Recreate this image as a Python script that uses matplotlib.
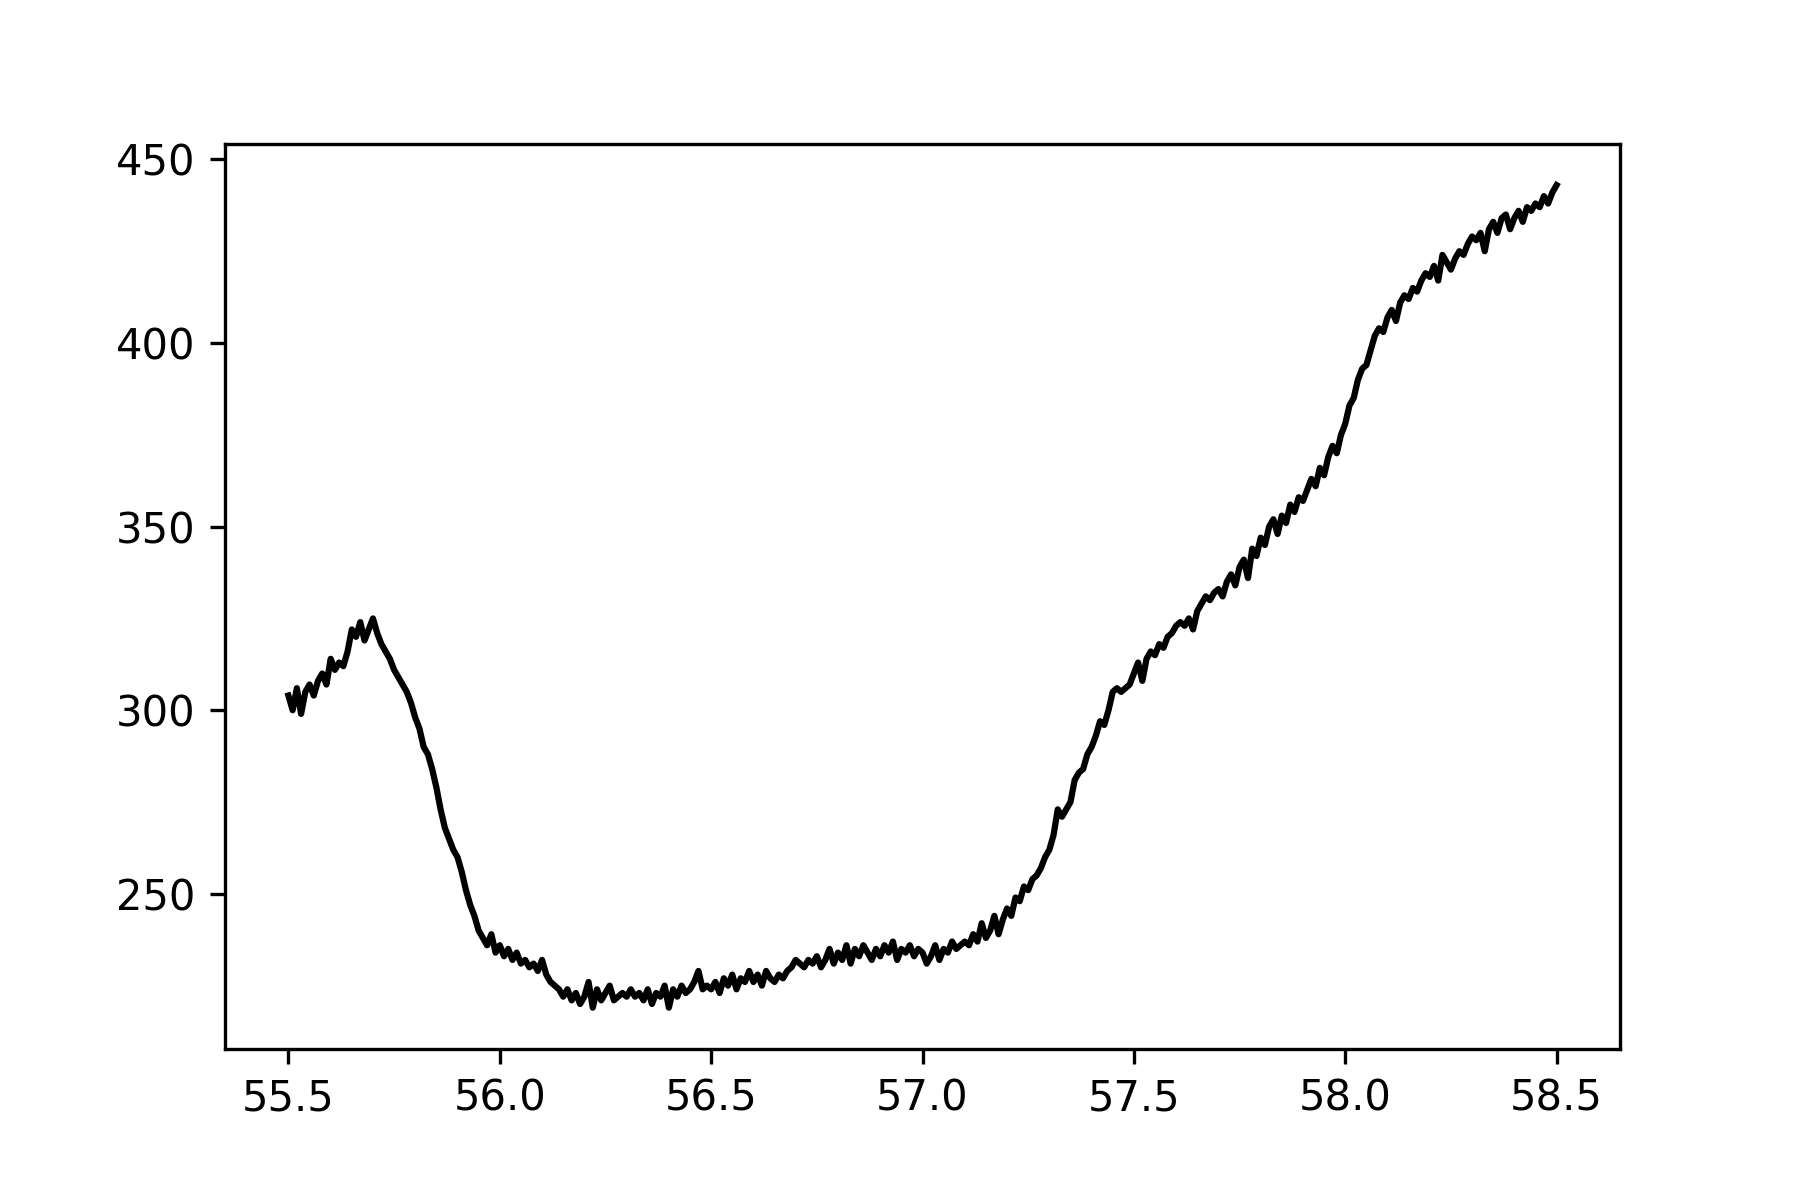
import matplotlib
matplotlib.use("Agg")
import matplotlib.pyplot as plt
import numpy as np

# x runs evenly from 55.5 to 58.5, one reading every 0.01
x_start = 55.5
x_stop = 58.5

signal = [
    304, 300, 306, 299, 305, 307, 304, 308, 310, 307,
    314, 311, 313, 312, 316, 322, 320, 324, 319, 322,
    325, 321, 318, 316, 314, 311, 309, 307, 305, 302,
    298, 295, 290, 288, 284, 279, 273, 268, 265, 262,
    260, 256, 251, 247, 244, 240, 238, 236, 239, 234,
    236, 233, 235, 232, 234, 231, 232, 230, 231, 229,
    232, 228, 226, 225, 224, 222, 224, 221, 223, 220,
    222, 226, 219, 224, 221, 223, 225, 221, 222, 223,
    222, 224, 222, 223, 221, 224, 220, 223, 222, 225,
    219, 224, 222, 225, 223, 224, 226, 229, 224, 225,
    224, 226, 223, 227, 225, 228, 224, 227, 226, 229,
    226, 228, 225, 229, 227, 226, 228, 227, 229, 230,
    232, 231, 230, 232, 231, 233, 230, 232, 235, 231,
    234, 232, 236, 231, 235, 233, 236, 234, 232, 235,
    233, 236, 234, 237, 232, 235, 234, 236, 233, 235,
    234, 231, 233, 236, 232, 235, 234, 237, 235, 236,
    237, 236, 239, 237, 242, 238, 240, 244, 239, 243,
    246, 244, 249, 248, 252, 251, 254, 255, 257, 260,
    262, 266, 273, 271, 273, 275, 281, 283, 284, 288,
    290, 293, 297, 296, 300, 305, 306, 305, 306, 307,
    310, 313, 308, 314, 316, 315, 318, 317, 320, 321,
    323, 324, 323, 325, 322, 327, 329, 331, 330, 332,
    333, 331, 335, 337, 334, 339, 341, 336, 344, 342,
    347, 345, 350, 352, 348, 353, 351, 356, 354, 358,
    357, 360, 363, 361, 366, 364, 369, 372, 370, 375,
    378, 383, 385, 390, 393, 394, 398, 402, 404, 403,
    407, 409, 406, 411, 413, 412, 415, 414, 417, 419,
    418, 421, 417, 424, 422, 420, 423, 425, 424, 427,
    429, 428, 430, 425, 431, 433, 430, 434, 435, 431,
    434, 436, 433, 437, 436, 438, 437, 440, 438, 441,
    443,
]

x = np.linspace(x_start, x_stop, len(signal))

fig = plt.figure(figsize=(6, 4), dpi=300)
fig.subplots_adjust(left=0.125, right=0.9, top=0.88, bottom=0.126)
ax = fig.add_subplot(111)
ax.plot(x, signal, color='k', linewidth=1.5)

fig.savefig("out.png", dpi=300)
